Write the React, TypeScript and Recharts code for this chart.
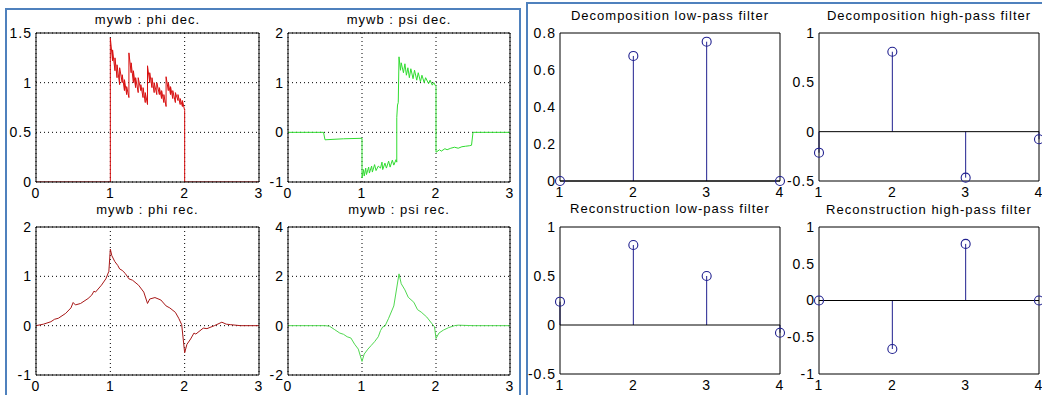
import { ComposedChart, Line, Scatter, XAxis, YAxis, CartesianGrid, ReferenceLine } from 'recharts';

const FONT = '"Liberation Sans", Arial, Helvetica, sans-serif';
const STEM = '#20208f';
const BLUE = '#4f81bd';

// wavelet curves as [t, value]
const phiDec: [number, number][] = [
  [0, 0], [1, 0], [1, 1.45], [1.03, 1.22], [1.03, 1.33], [1.0625, 1.12], [1.0625, 1.25], [1.09, 1.05],
  [1.09, 1.18], [1.125, 0.98], [1.125, 1.15], [1.16, 1.0], [1.16, 1.08], [1.19, 0.92], [1.19, 1.03],
  [1.22, 0.88], [1.22, 0.96], [1.25, 0.85], [1.25, 1.3], [1.28, 1.1], [1.28, 1.2], [1.31, 1.0],
  [1.31, 1.12], [1.34, 0.95], [1.34, 1.05], [1.375, 0.9], [1.375, 1.05], [1.41, 0.92], [1.41, 0.98],
  [1.44, 0.85], [1.44, 0.95], [1.47, 0.8], [1.47, 0.9], [1.5, 0.78], [1.5, 1.17], [1.53, 1.0],
  [1.53, 1.1], [1.56, 0.95], [1.56, 1.05], [1.59, 0.9], [1.59, 1.0], [1.625, 0.88], [1.625, 1.0],
  [1.66, 0.88], [1.66, 0.95], [1.69, 0.84], [1.69, 0.92], [1.72, 0.8], [1.72, 0.88], [1.75, 0.76],
  [1.75, 1.06], [1.78, 0.92], [1.78, 1.0], [1.81, 0.88], [1.81, 0.96], [1.84, 0.84], [1.84, 0.92],
  [1.875, 0.8], [1.875, 0.9], [1.91, 0.82], [1.91, 0.88], [1.94, 0.78], [1.94, 0.84], [1.97, 0.76],
  [1.97, 0.82], [2, 0.72], [2, 0], [3, 0],
];

const psiDec: [number, number][] = [
  [0, 0], [0.48, 0], [0.5, -0.15], [0.75, -0.13], [1, -0.12], [1, -0.92], [1.02, -0.75], [1.03, -0.88],
  [1.05, -0.72], [1.06, -0.85], [1.09, -0.7], [1.1, -0.82], [1.13, -0.68], [1.14, -0.8], [1.17, -0.65],
  [1.19, -0.77], [1.22, -0.68], [1.25, -0.72], [1.27, -0.6], [1.28, -0.75], [1.31, -0.62], [1.33, -0.72],
  [1.36, -0.58], [1.38, -0.7], [1.41, -0.56], [1.43, -0.66], [1.46, -0.55], [1.47, -0.6], [1.47, 0.3],
  [1.48, 0.55], [1.49, 0.6], [1.5, 1.52], [1.52, 1.25], [1.53, 1.4], [1.56, 1.2], [1.58, 1.38],
  [1.6, 1.15], [1.62, 1.3], [1.64, 1.1], [1.66, 1.28], [1.69, 1.08], [1.71, 1.25], [1.74, 1.05],
  [1.76, 1.2], [1.79, 1.02], [1.81, 1.15], [1.84, 1.0], [1.86, 1.1], [1.9, 0.98], [1.92, 1.05],
  [1.95, 0.95], [1.97, 1.0], [2, 0.92], [2, -0.4], [2.05, -0.35], [2.07, -0.38], [2.12, -0.33],
  [2.15, -0.35], [2.2, -0.32], [2.25, -0.3], [2.3, -0.32], [2.35, -0.29], [2.4, -0.28], [2.45, -0.27],
  [2.48, -0.26], [2.5, 0], [3, 0],
];

const phiRec: [number, number][] = [
  [0, 0], [0.1, 0.03], [0.2, 0.08], [0.25, 0.13], [0.3, 0.15], [0.4, 0.25], [0.47, 0.36], [0.5, 0.47],
  [0.53, 0.42], [0.6, 0.45], [0.7, 0.55], [0.75, 0.62], [0.78, 0.7], [0.8, 0.68], [0.88, 0.82],
  [0.94, 0.95], [0.98, 1.1], [1, 1.55], [1.02, 1.42], [1.06, 1.3], [1.1, 1.22], [1.125, 1.15],
  [1.16, 1.12], [1.2, 1.06], [1.25, 0.95], [1.3, 0.92], [1.38, 0.82], [1.45, 0.68], [1.5, 0.45],
  [1.53, 0.54], [1.6, 0.57], [1.68, 0.52], [1.75, 0.4], [1.8, 0.36], [1.875, 0.27], [1.92, 0.15],
  [1.96, 0.02], [2, -0.55], [2.03, -0.38], [2.08, -0.27], [2.125, -0.15], [2.15, -0.17], [2.25, -0.05],
  [2.3, -0.06], [2.4, 0], [2.5, 0.07], [2.56, 0.03], [2.62, 0.02], [2.75, 0], [3, 0],
];

const psiRec: [number, number][] = [
  [0, 0], [0.5, 0], [0.56, -0.02], [0.625, -0.15], [0.7, -0.3], [0.75, -0.35], [0.8, -0.45], [0.85, -0.5],
  [0.9, -0.75], [0.95, -0.95], [1, -1.45], [1.03, -1.15], [1.08, -0.95], [1.125, -0.8], [1.17, -0.65],
  [1.22, -0.45], [1.25, -0.2], [1.28, -0.05], [1.31, -0.02], [1.36, 0.3], [1.43, 0.8], [1.5, 2.1],
  [1.53, 1.7], [1.58, 1.45], [1.625, 1.15], [1.7, 0.95], [1.75, 0.65], [1.8, 0.55], [1.875, 0.35],
  [1.94, 0.1], [1.98, -0.05], [2, -0.52], [2.04, -0.3], [2.1, -0.18], [2.17, -0.08], [2.25, 0],
  [2.3, 0.02], [2.5, 0], [3, 0],
];

// filter coefficients, taps 1..4
const taps = [1, 2, 3, 4];
const loDec = [0, 0.676, 0.753, 0];
const hiDec = [-0.213, 0.81, -0.466, -0.077];
const loRec = [0.238, 0.816, 0.5, -0.079];
const hiRec = [0, -0.66, 0.77, 0];

const waveTicks = [0, 1, 2, 3];

const YW = 34;
const MT = 10;
const MR = 6;
const XH = 26;

type Box = { l: number; t: number; r: number; b: number };

interface PanelProps {
  box: Box;
  title: string;
  titleY: number;
  xDomain: [number, number];
  xTicks: number[];
  yDomain: [number, number];
  yTicks: number[];
  wave?: [number, number][];
  color?: string;
  stems?: number[];
  white?: boolean;
}

const circle = (p: any) => (
  <circle cx={p.cx} cy={p.cy} r={4.5} fill="none" stroke={STEM} strokeWidth={1.1} />
);

function Panel({ box, title, titleY, xDomain, xTicks, yDomain, yTicks, wave, color, stems, white }: PanelProps) {
  const w = box.r - box.l;
  const h = box.b - box.t;
  const data = wave
    ? wave.map(([x, y]) => ({ x, y }))
    : taps.map((x, i) => ({ x, y: (stems as number[])[i] }));
  const clip = !!wave;
  const tickFont = { fontSize: 14, fill: '#000', letterSpacing: 1 };
  return (
    <>
      <div
        style={{
          position: 'absolute',
          left: box.l - YW,
          top: box.t - MT,
          width: w + YW + MR,
          height: h + MT + XH,
          background: white ? '#fff' : 'transparent',
        }}
      >
        <ComposedChart width={w + YW + MR} height={h + MT + XH} data={data} margin={{ top: MT, right: MR, bottom: 0, left: 0 }}>
          {wave && (
            <CartesianGrid xAxisId="b" yAxisId="l" stroke="#000" strokeDasharray="1 3" />
          )}
          <XAxis xAxisId="b" type="number" dataKey="x" domain={xDomain} ticks={xTicks} interval={0}
            allowDataOverflow={clip} height={XH} tickLine={false} axisLine={{ stroke: '#000' }}
            tickSize={2} tickMargin={4} tick={tickFont} />
          <XAxis xAxisId="bm" type="number" dataKey="x" domain={xDomain} ticks={xTicks} interval={0}
            allowDataOverflow mirror tick={false} tickSize={3} axisLine={false} tickLine={{ stroke: '#000' }} />
          <XAxis xAxisId="t" orientation="top" type="number" dataKey="x" domain={xDomain} ticks={xTicks}
            interval={0} allowDataOverflow mirror tick={false} tickSize={3} axisLine={{ stroke: '#000' }}
            tickLine={{ stroke: '#000' }} />
          <YAxis yAxisId="l" type="number" dataKey="y" domain={yDomain} ticks={yTicks} interval={0}
            allowDataOverflow={clip} width={YW} tickLine={false} axisLine={{ stroke: '#000' }}
            tickSize={2} tickMargin={2} tick={tickFont} />
          <YAxis yAxisId="lm" type="number" domain={yDomain} ticks={yTicks} interval={0} allowDataOverflow
            mirror tick={false} tickSize={3} axisLine={false} tickLine={{ stroke: '#000' }} />
          <YAxis yAxisId="r" orientation="right" type="number" domain={yDomain} ticks={yTicks} interval={0}
            allowDataOverflow mirror tick={false} tickSize={3} axisLine={{ stroke: '#000' }}
            tickLine={{ stroke: '#000' }} />
          {wave && (
            <Line xAxisId="b" yAxisId="l" type="linear" dataKey="y" stroke={color} strokeWidth={1}
              dot={false} isAnimationActive={false} />
          )}
          {stems &&
            taps.map((n, i) => (
              <ReferenceLine key={n} xAxisId="b" yAxisId="l" segment={[{ x: n, y: 0 }, { x: n, y: stems[i] }]}
                stroke={STEM} strokeWidth={1} />
            ))}
          {stems && <ReferenceLine xAxisId="b" yAxisId="l" y={0} stroke="#000" strokeWidth={1} />}
          {stems && (
            <Scatter xAxisId="b" yAxisId="l" data={data} shape={circle} isAnimationActive={false} />
          )}
        </ComposedChart>
      </div>
      <div
        style={{
          position: 'absolute',
          left: box.l - 20,
          width: w + 40,
          top: titleY - 8,
          height: 16,
          lineHeight: '16px',
          textAlign: 'center',
          fontSize: 13,
          letterSpacing: 1,
          color: '#000',
          whiteSpace: 'nowrap',
        }}
      >
        {title}
      </div>
    </>
  );
}

export default function App() {
  return (
    <div
      style={{
        position: 'absolute',
        left: 0,
        top: 0,
        width: 1042,
        height: 395,
        overflow: 'hidden',
        background: '#fff',
        fontFamily: FONT,
      }}
    >
      <div style={{ position: 'absolute', left: 5, top: 8, width: 516, height: 420, border: `2px solid ${BLUE}`, boxSizing: 'border-box' }} />
      <div style={{ position: 'absolute', left: 526, top: 2, width: 600, height: 420, border: `2px solid ${BLUE}`, boxSizing: 'border-box' }} />

      <Panel box={{ l: 36, t: 33, r: 259, b: 182 }} title="mywb : phi dec." titleY={20}
        xDomain={[0, 3]} xTicks={waveTicks} yDomain={[0, 1.5]} yTicks={[0, 0.5, 1, 1.5]}
        wave={phiDec} color="#d81010" />
      <Panel box={{ l: 288, t: 33, r: 510, b: 182 }} title="mywb : psi dec." titleY={20}
        xDomain={[0, 3]} xTicks={waveTicks} yDomain={[-1, 2]} yTicks={[-1, 0, 1, 2]}
        wave={psiDec} color="#30dc30" />
      <Panel box={{ l: 36, t: 227, r: 259, b: 375 }} title="mywb : phi rec." titleY={210}
        xDomain={[0, 3]} xTicks={waveTicks} yDomain={[-1, 2]} yTicks={[-1, 0, 1, 2]}
        wave={phiRec} color="#a81818" />
      <Panel box={{ l: 288, t: 227, r: 510, b: 375 }} title="mywb : psi rec." titleY={210}
        xDomain={[0, 3]} xTicks={waveTicks} yDomain={[-2, 4]} yTicks={[-2, 0, 2, 4]}
        wave={psiRec} color="#50d850" />

      <Panel box={{ l: 560, t: 33, r: 780, b: 181 }} title="Decomposition low-pass filter" titleY={16}
        xDomain={[1, 4]} xTicks={taps} yDomain={[0, 0.8]} yTicks={[0, 0.2, 0.4, 0.6, 0.8]} stems={loDec} />
      <Panel box={{ l: 819, t: 33, r: 1039, b: 181 }} title="Decomposition high-pass filter" titleY={16}
        xDomain={[1, 4]} xTicks={taps} yDomain={[-0.5, 1]} yTicks={[-0.5, 0, 0.5, 1]} stems={hiDec} white />
      <Panel box={{ l: 560, t: 227, r: 780, b: 374 }} title="Reconstruction low-pass filter" titleY={209}
        xDomain={[1, 4]} xTicks={taps} yDomain={[-0.5, 1]} yTicks={[-0.5, 0, 0.5, 1]} stems={loRec} />
      <Panel box={{ l: 819, t: 227, r: 1039, b: 374 }} title="Reconstruction high-pass filter" titleY={210}
        xDomain={[1, 4]} xTicks={taps} yDomain={[-1, 1]} yTicks={[-1, -0.5, 0, 0.5, 1]} stems={hiRec} white />
    </div>
  );
}
